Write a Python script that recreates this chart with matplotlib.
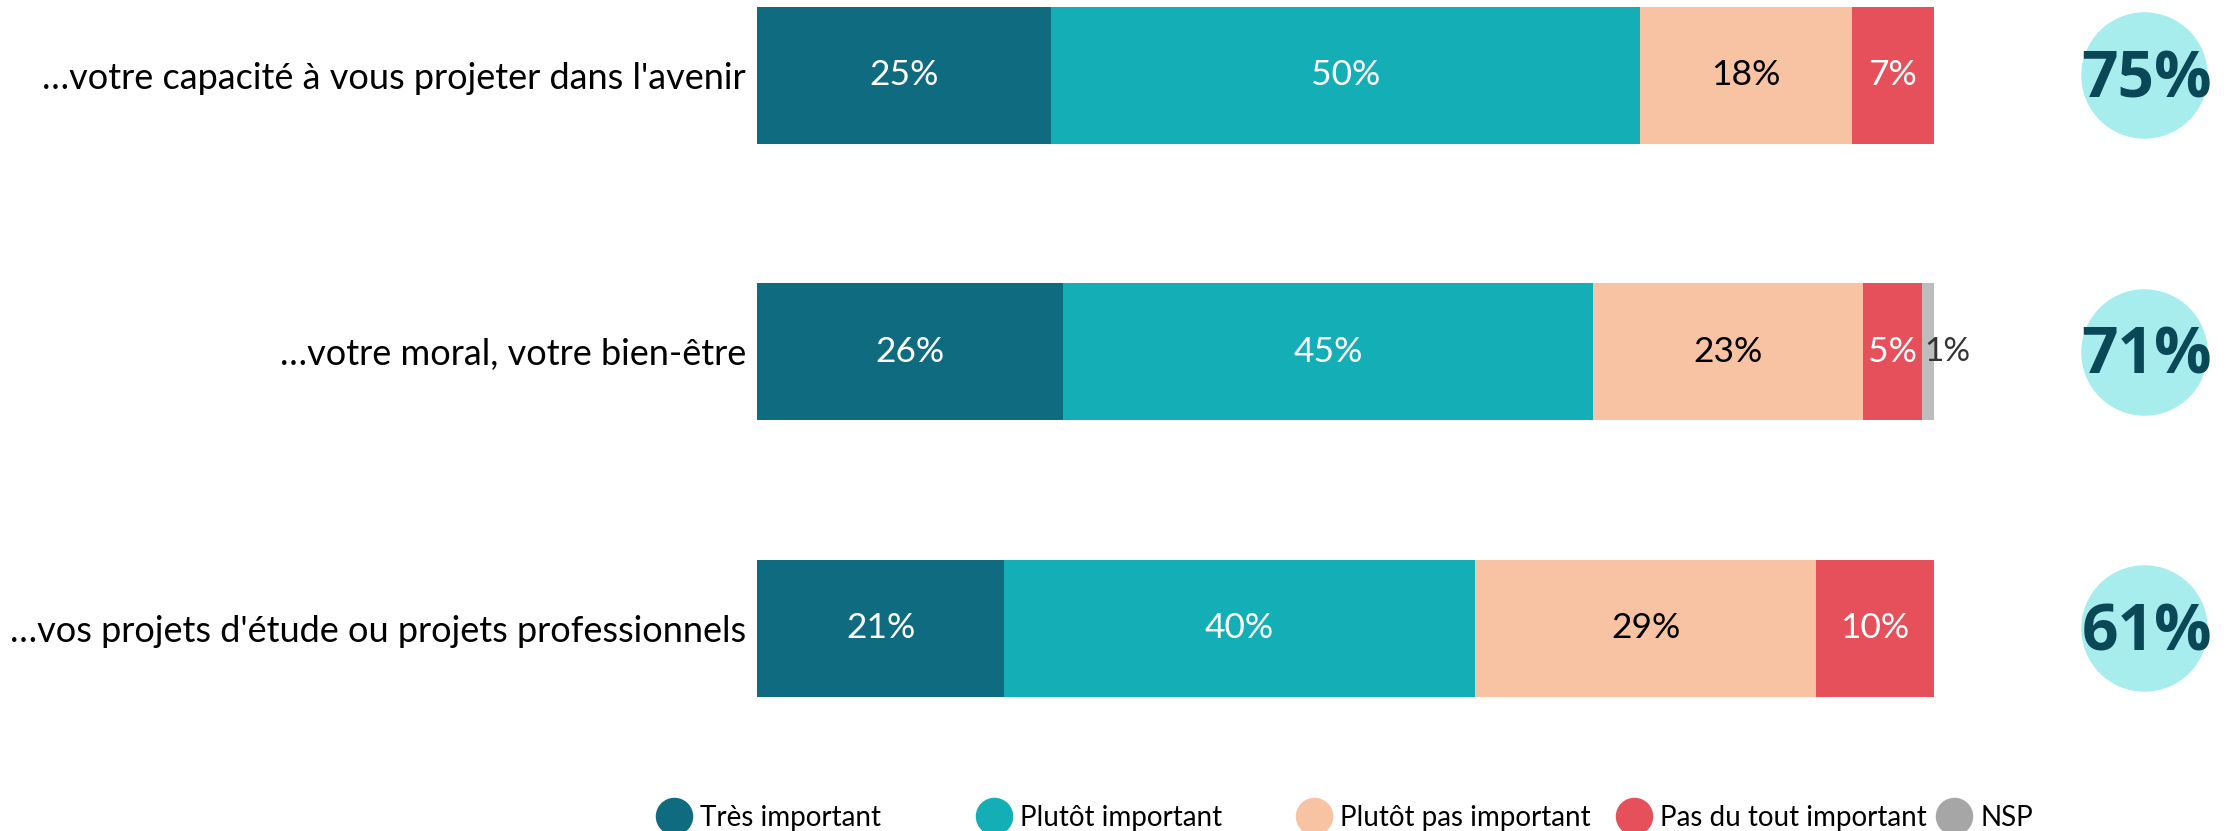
import matplotlib.pyplot as plt
from matplotlib.lines import Line2D
import numpy as np

# données
categories = ["…votre capacité à vous projeter dans l'avenir",
              "…votre moral, votre bien-être",
              "…vos projets d'étude ou projets professionnels"]
series = ["Très important", "Plutôt important", "Plutôt pas important",
          "Pas du tout important", "NSP"]
tres_important = [25, 26, 21]
plutot_important = [50, 45, 40]
plutot_pas_important = [18, 23, 29]
pas_du_tout_important = [7, 5, 10]
nsp = [0, 1, 0]
total_important = [75, 71, 61]

colors = ["#0f6b80", "#14aeb7", "#f7c3a3", "#e6505a", "#bdbdbd"]
legend_colors = ["#0f6b80", "#14aeb7", "#f7c3a3", "#e6505a", "#a6a6a6"]
text_colors = ["white", "white", "black", "white", "#333333"]

plt.rcParams['font.family'] = ['Lato', 'DejaVu Sans']

fig = plt.figure(figsize=(22.29, 8.31), dpi=100)
ax = fig.add_axes([757 / 2229, 0, 1177 / 2229, 1])

values = [tres_important, plutot_important, plutot_pas_important,
          pas_du_tout_important, nsp]
y = np.arange(len(categories))
left = np.zeros(len(categories))
for vals, col, tcol in zip(values, colors, text_colors):
    vals = np.array(vals, dtype=float)
    ax.barh(y, vals, left=left, height=0.496, color=col, edgecolor='none')
    for yi, v, l in zip(y, vals, left):
        if v <= 0:
            continue
        if v < 3:
            # petite valeur : étiquette juste à droite
            ax.text(l + 0.2, yi, f"{v:.0f}%", ha='left', va='center',
                    fontsize=24, color=tcol)
        else:
            ax.text(l + v / 2, yi, f"{v:.0f}%", ha='center', va='center',
                    fontsize=25.5, color=tcol)
    left += vals

# cercles avec le total
circle_x = 117.8
ax.scatter([circle_x] * len(y), y, s=8300, color="#a8eded", clip_on=False,
           zorder=3, linewidths=0)
for yi, t in zip(y, total_important):
    ax.text(circle_x + 0.3, yi + 0.02, f"{t}%", ha='center', va='center',
            fontsize=46, fontweight='bold', family='Open Sans',
            color="#0b4857", zorder=4)

ax.set_xlim(0, 100)
ax.set_ylim(2.734, -0.273)
ax.set_yticks(y)
ax.set_yticklabels(categories, fontsize=26)
ax.tick_params(axis='y', length=0, pad=8)
ax.set_xticks([])
for s in ax.spines.values():
    s.set_visible(False)

# légende, une entrée par bloc espacé régulièrement
for i, (lab, col) in enumerate(zip(series, legend_colors)):
    h = Line2D([], [], marker='o', linestyle='none', markersize=27,
               markerfacecolor=col, markeredgecolor='none')
    fig.legend(handles=[h], labels=[lab], loc='center left',
               bbox_to_anchor=((660 + i * 320) / 2229, 0.016),
               frameon=False, fontsize=20, handlelength=1.0,
               handletextpad=0.45, borderpad=0, borderaxespad=0)

plt.savefig('out.png', dpi=100)
